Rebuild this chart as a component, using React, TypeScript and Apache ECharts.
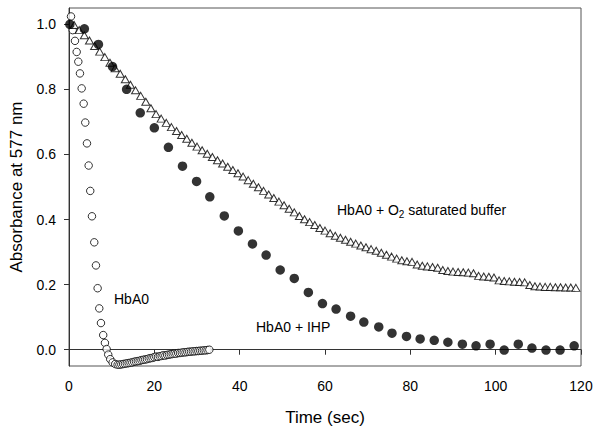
import React, { useEffect, useRef } from "react";
import * as echarts from "echarts";

// HbA0 (open circles)
const hba0Time = [
  0.47, 0.87, 1.4, 1.8, 2.18, 2.57, 2.97, 3.44, 3.81, 4.21, 4.61, 4.98, 5.38, 5.92, 6.32, 6.71, 7.09, 7.49, 8.02, 8.42,
  8.82, 9.19, 9.66, 10.22, 10.83, 11.39, 11.82, 12.25, 12.68, 13.11, 13.54, 13.97, 14.4, 14.83, 15.26, 15.69, 16.12,
  16.55, 16.98, 17.41, 17.84, 18.27, 18.7, 19.13, 19.56, 19.99, 20.42, 20.85, 21.28, 21.71, 22.14, 22.57, 23.0, 23.43,
  23.86, 24.29, 24.72, 25.15, 25.58, 26.01, 26.44, 26.87, 27.3, 27.73, 28.16, 28.59, 29.02, 29.45, 29.88, 30.31, 30.74,
  31.17, 31.6, 32.03, 32.46, 32.89,
];
const hba0Abs = [
  1.024, 0.982, 0.949, 0.915, 0.885, 0.849, 0.803, 0.756, 0.698, 0.634, 0.566, 0.488, 0.41, 0.33, 0.259, 0.189, 0.127,
  0.082, 0.045, 0.021, 0.002, -0.015, -0.029, -0.039, -0.044, -0.046, -0.046, -0.045, -0.044, -0.043, -0.042, -0.041,
  -0.04, -0.039, -0.037, -0.036, -0.035, -0.034, -0.032, -0.031, -0.03, -0.029, -0.027, -0.026, -0.025, -0.023, -0.021,
  -0.022, -0.02, -0.019, -0.017, -0.018, -0.016, -0.015, -0.014, -0.013, -0.012, -0.012, -0.01, -0.01, -0.009, -0.008,
  -0.008, -0.007, -0.006, -0.006, -0.005, -0.005, -0.004, -0.004, -0.003, -0.003, -0.002, -0.002, -0.001, 0.0,
];

// HbA0 + O2 saturated buffer (open triangles)
const o2Time = [
  1.2, 2.4, 3.6, 4.8, 6.0, 7.2, 8.4, 9.6, 10.8, 12.0, 13.2, 14.4, 15.6, 16.8, 18.0, 19.2, 20.4, 21.6, 22.8, 24.0, 25.2,
  26.4, 27.6, 28.8, 30.0, 31.2, 32.4, 33.6, 34.8, 36.0, 37.2, 38.4, 39.6, 40.8, 42.0, 43.2, 44.4, 45.6, 46.8, 48.0, 49.2,
  50.4, 51.6, 52.8, 54.0, 55.2, 56.4, 57.6, 58.8, 60.0, 61.2, 62.4, 63.6, 64.8, 66.0, 67.2, 68.4, 69.6, 70.8, 72.0, 73.2,
  74.4, 75.6, 76.8, 78.0, 79.2, 80.4, 81.6, 82.8, 84.0, 85.2, 86.4, 87.6, 88.8, 90.0, 91.2, 92.4, 93.6, 94.8, 96.0, 97.2,
  98.4, 99.6, 100.8, 102.0, 103.2, 104.4, 105.6, 106.8, 108.0, 109.2, 110.4, 111.6, 112.8, 114.0, 115.2, 116.4, 117.6,
  118.8,
];
const o2Abs = [
  0.998, 0.982, 0.966, 0.95, 0.933, 0.916, 0.899, 0.882, 0.865, 0.848, 0.831, 0.814, 0.797, 0.78, 0.762, 0.742, 0.724,
  0.71, 0.697, 0.684, 0.672, 0.66, 0.648, 0.636, 0.624, 0.613, 0.602, 0.592, 0.582, 0.572, 0.562, 0.552, 0.542, 0.532,
  0.521, 0.51, 0.499, 0.488, 0.477, 0.466, 0.455, 0.444, 0.433, 0.422, 0.411, 0.401, 0.392, 0.383, 0.374, 0.366, 0.358,
  0.35, 0.344, 0.338, 0.332, 0.326, 0.32, 0.315, 0.309, 0.304, 0.298, 0.292, 0.286, 0.28, 0.275, 0.272, 0.27, 0.262,
  0.258, 0.256, 0.254, 0.252, 0.245, 0.242, 0.24, 0.239, 0.238, 0.237, 0.235, 0.227, 0.225, 0.224, 0.222, 0.213, 0.211,
  0.21, 0.209, 0.208, 0.207, 0.199, 0.195, 0.194, 0.193, 0.193, 0.192, 0.192, 0.191, 0.191, 0.19,
];

// HbA0 + IHP (filled circles)
const ihpTime = [
  0.2, 3.6, 6.9, 10.2, 13.5, 16.7, 20.0, 23.3, 26.6, 29.9, 33.0, 36.4, 39.7, 43.0, 46.2, 49.5, 52.8, 56.1, 59.4, 62.6,
  66.0, 69.1, 72.6, 75.7, 79.1, 82.3, 85.6, 88.8, 92.2, 95.4, 98.7, 102.0, 105.3, 108.5, 111.8, 115.1, 118.4,
];
const ihpAbs = [
  1.0, 0.986, 0.938, 0.87, 0.8, 0.728, 0.682, 0.622, 0.564, 0.517, 0.47, 0.411, 0.365, 0.325, 0.291, 0.245, 0.219, 0.176,
  0.142, 0.125, 0.103, 0.085, 0.07, 0.051, 0.041, 0.033, 0.029, 0.023, 0.017, 0.012, 0.017, -0.001, 0.017, 0.005,
  -0.001, -0.001, 0.012,
];

const xTicks = [0, 20, 40, 60, 80, 100, 120];
const yTicks = [0, 0.2, 0.4, 0.6, 0.8, 1.0];

const FONT = '"Liberation Sans", Arial, sans-serif';

const pairs = (t: number[], v: number[]) => t.map((x, i) => [x, v[i]]);

export default function App() {
  const ref = useRef<HTMLDivElement>(null);
  useEffect(() => {
    if (!ref.current) return;
    const chart = echarts.init(ref.current, null, { renderer: "svg" });
    chart.setOption({
      animation: false,
      backgroundColor: "#fff",
      grid: {
        left: 68,
        top: 8,
        right: 20,
        bottom: 68,
        show: true,
        borderColor: "#555",
        borderWidth: 1,
        backgroundColor: "transparent",
      },
      xAxis: {
        type: "value",
        min: xTicks[0],
        max: xTicks[xTicks.length - 1],
        interval: 20,
        name: "Time (sec)",
        nameLocation: "middle",
        nameGap: 43,
        nameTextStyle: { fontFamily: FONT, fontSize: 17, color: "#000" },
        axisLine: { show: true, lineStyle: { color: "#333", width: 1 } },
        axisTick: { show: true, inside: false, length: 5, lineStyle: { color: "#333" } },
        axisLabel: { fontFamily: FONT, fontSize: 14, color: "#000", margin: 13 },
        splitLine: { show: false },
      },
      yAxis: {
        type: "value",
        min: -0.05,
        max: 1.05,
        name: "Absorbance at 577 nm",
        nameLocation: "middle",
        nameGap: 44,
        nameTextStyle: { fontFamily: FONT, fontSize: 17, color: "#000" },
        axisLine: { show: true, lineStyle: { color: "#333", width: 1 } },
        axisTick: { show: true, inside: false, length: 5, customValues: yTicks, lineStyle: { color: "#333" } },
        axisLabel: {
          fontFamily: FONT,
          fontSize: 14,
          color: "#000",
          margin: 13,
          customValues: yTicks,
          formatter: (v: number) => v.toFixed(1),
        },
        splitLine: { show: false },
      },
      series: [
        {
          type: "scatter",
          name: "HbA0",
          data: pairs(hba0Time, hba0Abs),
          symbol: "circle",
          symbolSize: 7.5,
          itemStyle: { color: "#fff", borderColor: "#000", borderWidth: 1 },
          z: 2,
        },
        {
          type: "scatter",
          name: "HbA0 + O2 saturated buffer",
          data: pairs(o2Time, o2Abs),
          symbol: "triangle",
          symbolSize: [8, 7],
          itemStyle: { color: "#fff", borderColor: "#000", borderWidth: 1 },
          z: 3,
        },
        {
          type: "scatter",
          name: "HbA0 + IHP",
          data: pairs(ihpTime, ihpAbs),
          symbol: "circle",
          symbolSize: 9.5,
          itemStyle: { color: "#000" },
          z: 4,
        },
      ],
      graphic: [
        {
          type: "text",
          x: 114,
          y: 299,
          style: { text: "HbA0", fontFamily: FONT, fontSize: 14, fill: "#000", verticalAlign: "middle" },
          z: 10,
        },
        {
          type: "text",
          x: 256,
          y: 327,
          style: { text: "HbA0 + IHP", fontFamily: FONT, fontSize: 14, fill: "#000", verticalAlign: "middle" },
          z: 10,
        },
        {
          type: "text",
          x: 337,
          y: 210,
          style: {
            text: "{a|HbA0 + O}{s|2}{a| saturated buffer}",
            fill: "#000",
            verticalAlign: "middle",
            rich: {
              a: { fontFamily: FONT, fontSize: 14, fill: "#000", lineHeight: 16, verticalAlign: "middle" },
              s: { fontFamily: FONT, fontSize: 10, fill: "#000", lineHeight: 19, verticalAlign: "bottom" },
            },
          },
          z: 10,
        },
      ],
    });
    return () => chart.dispose();
  }, []);
  return (
    <div
      ref={ref}
      style={{ position: "fixed", left: 0, top: 0, width: 601, height: 434, background: "#fff" }}
    />
  );
}
